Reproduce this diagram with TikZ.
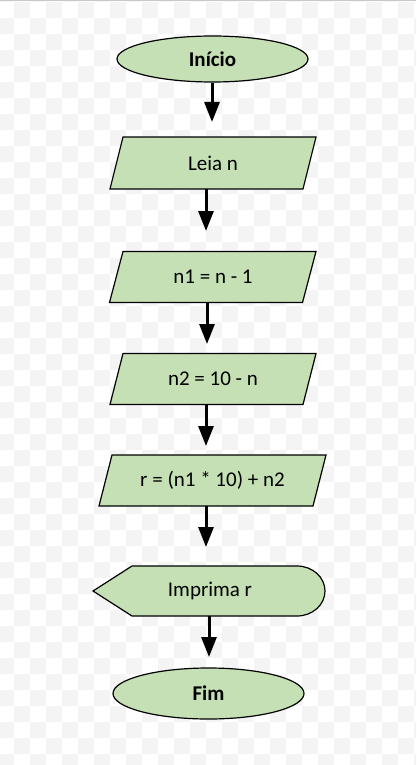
\documentclass[tikz,border=0pt]{standalone}
\usepackage{fontspec}
\setmainfont{Carlito}
\usetikzlibrary{shapes.geometric,arrows.meta}
\definecolor{boxfill}{HTML}{C5E0B4}
\definecolor{checkgray}{HTML}{F4F4F4}
\definecolor{topline}{HTML}{C8C8C8}
\tikzset{
  base/.style={draw=black, line width=1.2pt, fill=boxfill, inner sep=0pt,
    font=\fontsize{21}{25}\selectfont, text=black},
  terminal/.style={base, ellipse, minimum width=191pt, font=\fontsize{21}{25}\selectfont\bfseries},
  flow/.style={line width=3pt, -{Triangle[width=15pt,length=20pt]}},
  label/.style={inner sep=0pt, font=\fontsize{21}{25}\selectfont, text=black}
}
\begin{document}
\begin{tikzpicture}[x=1pt,y=-1pt]
\useasboundingbox (0,0) rectangle (416,765);
\fill[white] (0,0) rectangle (416,765);
\begin{scope}
\clip (0,0) rectangle (416,765);
\foreach \c in {-1,...,25}{
  \foreach \r in {-1,...,47}{
    \pgfmathtruncatemacro\s{mod(\c+\r+100,2)}
    \ifnum\s=0
      \fill[checkgray] (14+16*\c,2+16*\r) rectangle ++(16,16);
    \fi
  }
}
\end{scope}
\draw[topline, line width=1pt] (0,1) -- (416,1);

% start
\node[terminal, minimum height=46pt] (inicio) at (212.5,59) {Início};
% input / process parallelograms
\draw[base] (110,189) -- (303,189) -- (316,137) -- (123,137) -- cycle;
\node[label, minimum height=52pt] (leia) at (213,163) {Leia n};
\draw[base] (109.5,302.5) -- (302.5,302.5) -- (316,251.5) -- (123,251.5) -- cycle;
\node[label, minimum height=51pt] (n1) at (213,277) {n1 = n - 1};
\draw[base] (110,404.5) -- (303,404.5) -- (316,353.5) -- (123,353.5) -- cycle;
\node[label, minimum height=51pt] (n2) at (213,379) {n2 = 10 - n};
\draw[base] (99,506) -- (313,506) -- (326,455) -- (112,455) -- cycle;
\node[label, minimum height=51pt] (r) at (212.5,480.5) {r = (n1 * 10) + n2};
% display shape
\draw[base] (93,591) -- (132,566) -- (297,566)
  arc[start angle=90, end angle=-90, x radius=28, y radius=-25]
  -- (132,616) -- cycle;
\node[label, minimum height=50pt] (imprima) at (210,591) {Imprima r};
% end
\node[terminal, minimum height=51pt] (fim) at (208.5,693.5) {Fim};

% connectors
\coordinate (t1) at (212,122);
\coordinate (t2) at (206,231);
\coordinate (t3) at (207,344);
\coordinate (t4) at (206,446);
\coordinate (t5) at (206,547);
\coordinate (t6) at (209,657);
\draw[flow] (inicio.south -| t1) -- (t1);
\draw[flow] (leia.south -| t2) -- (t2);
\draw[flow] (n1.south -| t3) -- (t3);
\draw[flow] (n2.south -| t4) -- (t4);
\draw[flow] (r.south -| t5) -- (t5);
\draw[flow] (imprima.south -| t6) -- (t6);
\end{tikzpicture}
\end{document}
